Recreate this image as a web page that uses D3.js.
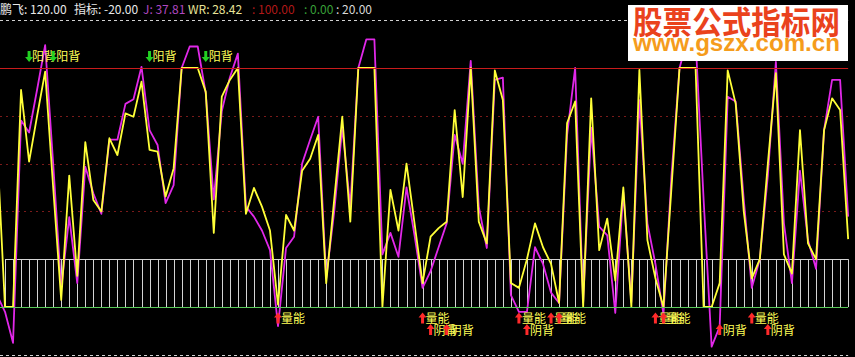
<!DOCTYPE html>
<html>
<head>
<meta charset="utf-8">
<script src="https://cdn.jsdelivr.net/npm/d3@7"></script>
<style>
  body { margin: 0; background: #000; overflow: hidden; }
  svg { display: block; }
</style>
</head>
<body>
<div id="chart"></div>
<script>
// bar index runs from -1 (half off the left edge) to 105
const wrValues = [68, 0, 0, 90.8, 60.8, 80, 98.5, 50, 3, 55, 13,
  69, 44.8, 40, 70.6, 63.6, 81, 79.6, 94.3, 65.7, 65,
  46.2, 58, 100, 100, 100, 90, 31, 88, 95, 100,
  39, 49.8, 42, 32, 1, 38.5, 32, 57, 62, 72,
  10, 45, 79.6, 35.7, 100, 100, 100, 0, 49, 32,
  60, 35, 10, 29.4, 33, 35.7, 82.4, 46, 100, 35.7,
  26.6, 99, 86.6, 10, 8, 20, 35, 25, 18, 1.7,
  77, 86, 0, 87.3, 23.8, 37, 11, 50, 0, 99.2,
  28, 12, 0, 50, 100, 100, 100, 0, 0, 10,
  99, 85, 40, 12, 20, 60, 97.8, 22, 14, 74,
  26.6, 20, 74, 87.3, 82.4, 28.42];

const jValues = [5, -2, -15, 78, 73, 91, 109.6, 60, 8, 37.6, 10,
  58.7, 47.6, 39, 70, 70, 85, 86.9, 100.5, 74, 67.8,
  43.5, 51, 100, 109, 109, 89.5, 45, 82, 96, 106,
  42, 37.8, 32, 23.8, -8, 24.7, 29.4, 60, 70, 79.6,
  12, 40, 75, 42, 100, 112, 112, 22, 31, 21,
  50, 30, 8, 15, 25, 35, 72, 60, 103, 42,
  24.7, 95, 96, 5, -2, -2, 25, 18, 6, 1.7,
  72, 100, 2, 75, 33.6, 30, -2.5, 48, 2, 86.6,
  35, 18, -3, 55, 100, 112, 112, 45, -16.6, -8.2,
  88, 86, 45, 8, 20, 55, 102.6, 35, 10, 57,
  28, 16, 74, 95, 95, 37.81];

const barIndex = d3.range(-1, 106);
const stickBars = d3.range(0, 106);
const gridLevels = [80, 60, 40];

// signal markers (bar indices)
const yangMarks = [3, 6, 18, 25];                 // 阳背
const volMarks = [34, 52, 64, 68, 69, 81, 82, 93]; // 量能
const yinMarks = [53, 55, 65, 89, 95];            // 阴背

const header = [
  {text: "鹏飞: 120.00", x: 0, color: "#e8e8e8"},
  {text: "指标: -20.00", x: 74, color: "#e8e8e8"},
  {text: "J: 37.81", x: 143, color: "#b048c0"},
  {text: "WR: 28.42", x: 188, color: "#e8e498"},
  {text: ": 100.00", x: 252, color: "#b01818"},
  {text: ": 0.00", x: 304, color: "#38a038"},
  {text: ": 20.00", x: 336, color: "#d8d8d8"}
];

const W = 855, H = 357;
const cjk = "'Noto Sans CJK SC', 'Noto Sans', sans-serif";

const svg = d3.select("#chart").append("svg")
  .attr("width", W)
  .attr("height", H);

svg.append("rect").attr("width", W).attr("height", H).attr("fill", "#000");

const x = d3.scaleLinear().domain([-1, 105]).range([5 - 8.03, 5 + 8.03 * 105]);
const y = d3.scaleLinear().domain([-20, 120]).range([354.8, 20.2]);
const right = x(105);

svg.append("clipPath").attr("id", "plot")
  .append("rect").attr("x", 0).attr("y", y(120)).attr("width", right + 1).attr("height", y(-20) - y(120));

// frame dashes top/bottom
[120, -20].forEach(v => {
  svg.append("line")
    .attr("x1", 0).attr("x2", right)
    .attr("y1", Math.round(y(v)) + 0.5).attr("y2", Math.round(y(v)) + 0.5)
    .attr("stroke", "#d0d0d0")
    .attr("stroke-dasharray", "3,3");
});

// dotted grid
svg.selectAll(".grid").data(gridLevels).enter().append("line")
  .attr("class", "grid")
  .attr("x1", 0).attr("x2", right)
  .attr("y1", d => Math.round(y(d)) + 0.5).attr("y2", d => Math.round(y(d)) + 0.5)
  .attr("stroke", "#7a1a1a")
  .attr("stroke-dasharray", "2,4");

// stick lines 0..20
svg.selectAll(".stick").data(stickBars).enter().append("line")
  .attr("class", "stick")
  .attr("x1", d => Math.round(x(d)) + 0.5).attr("x2", d => Math.round(x(d)) + 0.5)
  .attr("y1", y(20)).attr("y2", y(0))
  .attr("stroke", "#d4d4d4");
svg.append("line")
  .attr("x1", x(0)).attr("x2", right)
  .attr("y1", Math.round(y(20)) + 0.5).attr("y2", Math.round(y(20)) + 0.5)
  .attr("stroke", "#d4d4d4");

const lineGen = vals => d3.line()
  .x((d, i) => x(barIndex[i]))
  .y(d => y(d))(vals);

const plot = svg.append("g").attr("clip-path", "url(#plot)");

plot.append("path")
  .attr("d", lineGen(jValues))
  .attr("fill", "none")
  .attr("stroke", "#e028e8")
  .attr("stroke-width", 1.8)
  .attr("stroke-linejoin", "round");

plot.append("path")
  .attr("d", lineGen(wrValues))
  .attr("fill", "none")
  .attr("stroke", "#ffff38")
  .attr("stroke-width", 1.8)
  .attr("stroke-linejoin", "round");

// reference lines 100 and 0
svg.append("line")
  .attr("x1", 0).attr("x2", right)
  .attr("y1", Math.round(y(100)) + 0.5).attr("y2", Math.round(y(100)) + 0.5)
  .attr("stroke", "#c81c1c");
svg.append("line")
  .attr("x1", 0).attr("x2", right)
  .attr("y1", Math.round(y(0)) + 0.5).attr("y2", Math.round(y(0)) + 0.5)
  .attr("stroke", "#58c858");

// markers
const upArrow = "M0,-6 L4,-1 L1.5,-1 L1.5,5 L-1.5,5 L-1.5,-1 L-4,-1 Z";
const downArrow = "M0,6 L4,1 L1.5,1 L1.5,-5 L-1.5,-5 L-1.5,1 L-4,1 Z";

function marks(list, label, ypos, arrow, arrowColor) {
  const g = svg.selectAll(null).data(list).enter().append("g")
    .attr("transform", d => `translate(${x(d)},${ypos})`);
  g.append("path").attr("d", arrow).attr("fill", arrowColor);
  g.append("text")
    .attr("x", 3)
    .attr("y", 4.5)
    .attr("fill", "#ffff58")
    .style("font-family", cjk)
    .style("font-size", "12px")
    .text(label);
}
marks(yangMarks, "阳背", 56, downArrow, "#22d022");
marks(volMarks, "量能", 318.5, upArrow, "#ff2a2a");
marks(yinMarks, "阴背", 330, upArrow, "#ff2a2a");

// header
svg.selectAll(".hdr").data(header).enter().append("text")
  .attr("class", "hdr")
  .attr("x", d => d.x)
  .attr("y", 13.5)
  .attr("fill", d => d.color)
  .style("font-family", cjk)
  .style("font-size", "12px")
  .text(d => d.text);

// watermark
svg.append("rect")
  .attr("x", 628).attr("y", 5).attr("width", 220).attr("height", 56)
  .attr("fill", "#ffffff");
svg.append("text")
  .attr("x", 633).attr("y", 34)
  .attr("textLength", 207).attr("lengthAdjust", "spacingAndGlyphs")
  .attr("fill", "#ea421c")
  .style("font-family", cjk)
  .style("font-size", "32px")
  .style("font-weight", "bold")
  .text("股票公式指标网");
svg.append("text")
  .attr("x", 633).attr("y", 50.5)
  .attr("textLength", 207).attr("lengthAdjust", "spacingAndGlyphs")
  .attr("fill", "#f59c1c")
  .style("font-family", "'Liberation Sans', Arial, sans-serif")
  .style("font-size", "23px")
  .style("font-weight", "bold")
  .text("www.gszx.com.cn");
</script>
</body>
</html>
